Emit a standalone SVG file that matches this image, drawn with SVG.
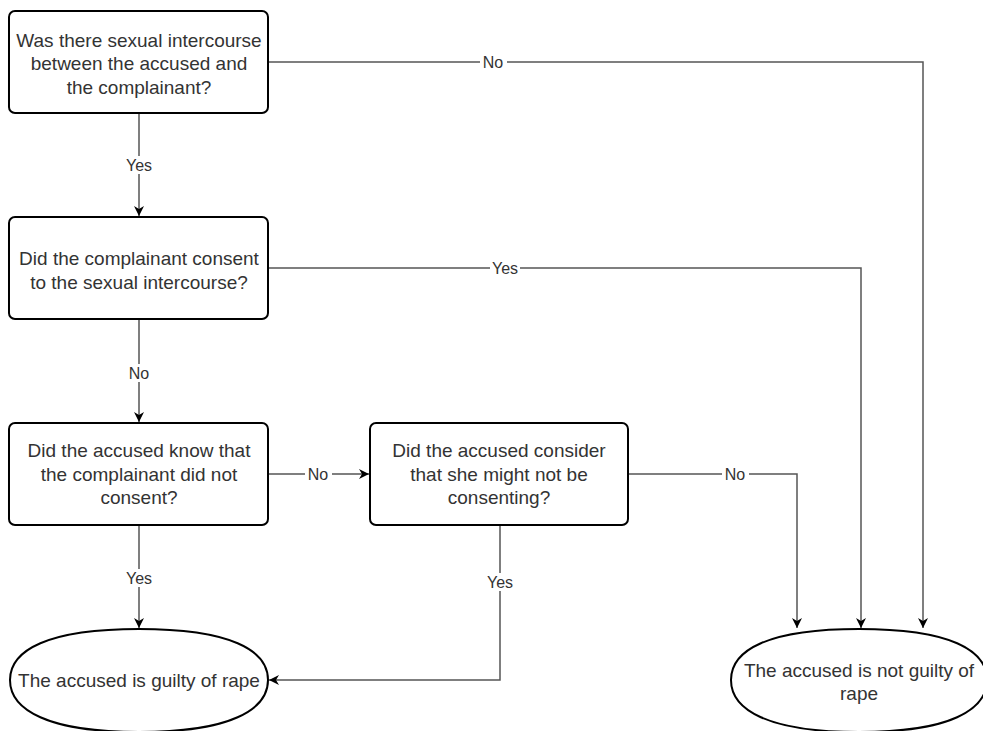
<svg xmlns="http://www.w3.org/2000/svg" width="983" height="731" viewBox="0 0 983 731">
<style>
.box{fill:#fff;stroke:#000;stroke-width:2}
.t{font-family:"Liberation Sans",Arial,sans-serif;font-size:19px;fill:#333;text-anchor:middle}
.e{fill:none;stroke:#555;stroke-width:1.5}
.l{font-family:"Liberation Sans",Arial,sans-serif;font-size:16px;fill:#333;text-anchor:middle}
.lb{fill:#fff}
</style>
<defs>
<marker id="ah" viewBox="0 0 10 10" refX="10" refY="5" markerWidth="10" markerHeight="10" markerUnits="userSpaceOnUse" orient="auto">
<path d="M0,0 L10,5 L0,10 L3,5 Z" fill="#000"/>
</marker>
</defs>
<rect width="983" height="731" fill="#fff"/>
<g id="connectors">
<path class="e" d="M268,62 H923 V628" marker-end="url(#ah)"/>
<path class="e" d="M139,113 V216" marker-end="url(#ah)"/>
<path class="e" d="M268,268 H861 V628" marker-end="url(#ah)"/>
<path class="e" d="M139,319 V422" marker-end="url(#ah)"/>
<path class="e" d="M268,474 H369" marker-end="url(#ah)"/>
<path class="e" d="M628,474 H797 V628" marker-end="url(#ah)"/>
<path class="e" d="M139,525 V628" marker-end="url(#ah)"/>
<path class="e" d="M500,525 V680 H269" marker-end="url(#ah)"/>
<rect class="lb" x="480" y="53" width="27" height="18"/>
<text class="l" x="493" y="68">No</text>
<rect class="lb" x="490" y="259" width="30" height="18"/>
<text class="l" x="505" y="274">Yes</text>
<rect class="lb" x="124" y="156" width="30" height="18"/>
<text class="l" x="139" y="171">Yes</text>
<rect class="lb" x="126" y="364" width="27" height="18"/>
<text class="l" x="139" y="379">No</text>
<rect class="lb" x="124" y="569" width="30" height="18"/>
<text class="l" x="139" y="584">Yes</text>
<rect class="lb" x="485" y="573" width="30" height="18"/>
<text class="l" x="500" y="588">Yes</text>
<rect class="lb" x="305" y="465" width="27" height="18"/>
<text class="l" x="318" y="480">No</text>
<rect class="lb" x="722" y="465" width="27" height="18"/>
<text class="l" x="735" y="480">No</text>
</g>
<g id="q1">
<rect class="box" x="9" y="11" width="259" height="102" rx="6"/>
<text class="t" x="139" y="47">Was there sexual intercourse</text>
<text class="t" x="139" y="70">between the accused and</text>
<text class="t" x="139" y="94">the complainant?</text>
</g>
<g id="q2">
<rect class="box" x="9" y="217" width="259" height="102" rx="6"/>
<text class="t" x="139" y="265">Did the complainant consent</text>
<text class="t" x="139" y="289">to the sexual intercourse?</text>
</g>
<g id="q3">
<rect class="box" x="9" y="423" width="259" height="102" rx="6"/>
<text class="t" x="139" y="457">Did the accused know that</text>
<text class="t" x="139" y="481">the complainant did not</text>
<text class="t" x="139" y="504">consent?</text>
</g>
<g id="q4">
<rect class="box" x="370" y="423" width="258" height="102" rx="6"/>
<text class="t" x="499" y="457">Did the accused consider</text>
<text class="t" x="499" y="481">that she might not be</text>
<text class="t" x="499" y="504">consenting?</text>
</g>
<g id="guilty">
<path class="box" d="M139,629 C230,629 268,650 268,680 C268,710 230,732 139,732 C48,732 10,710 10,680 C10,650 48,629 139,629 Z"/>
<text class="t" x="139" y="687">The accused is guilty of rape</text>
</g>
<g id="notguilty">
<path class="box" d="M859,629 C950,629 987,650 987,680 C987,710 950,732 859,732 C768,732 731,710 731,680 C731,650 768,629 859,629 Z"/>
<text class="t" x="859" y="677">The accused is not guilty of</text>
<text class="t" x="859" y="700">rape</text>
</g>
</svg>
